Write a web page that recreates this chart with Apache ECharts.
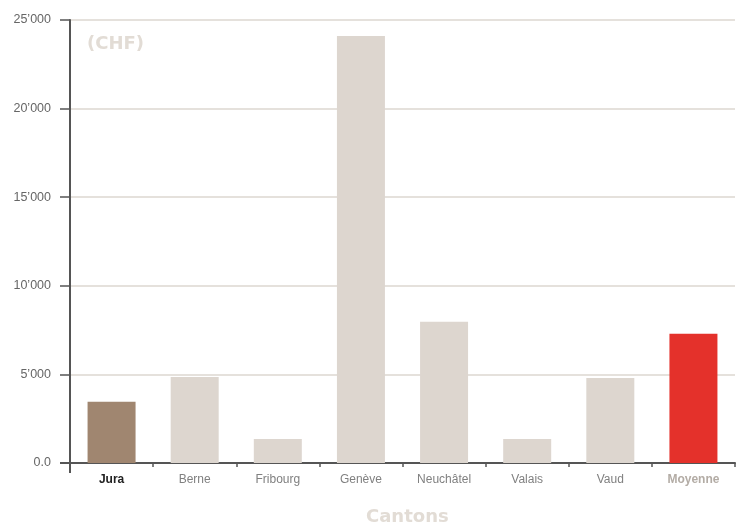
<!DOCTYPE html>
<html>
<head>
<meta charset="utf-8">
<script src="https://cdn.jsdelivr.net/npm/echarts@6/dist/echarts.min.js"></script>
<style>
    html, body { margin: 0; padding: 0; background: #fff; }
    #chart { width: 738px; height: 525px; }
</style>
</head>
<body>
<div id="chart"></div>
<script>
// données
let cantons = ['Jura', 'Berne', 'Fribourg', 'Genève', 'Neuchâtel', 'Valais', 'Vaud', 'Moyenne']
let montants = [3450, 4860, 1360, 24100, 7975, 1360, 4800, 7300]
let couleurs = ['#a08670', '#ddd6cf', '#ddd6cf', '#ddd6cf', '#ddd6cf', '#ddd6cf', '#ddd6cf', '#e4312b']
let yTicks = [0, 5000, 10000, 15000, 20000, 25000]

let dom = document.getElementById('chart')
let myChart = echarts.init(dom)

// 25000 -> 25'000, 0 -> 0.0
function fmt (v) {
    if (v === 0) return '0.0'
    let s = String(v)
    return s.slice(0, s.length - 3) + '\u2019' + s.slice(s.length - 3)
}

let police = 'Liberation Sans, Arial, sans-serif'
let policeTitre = 'DejaVu Sans, sans-serif'

myChart.setOption({
    animation: false,
    textStyle: { fontFamily: police },
    grid: { left: 70, right: 3, top: 20, bottom: 62 },
    xAxis: {
        type: 'category',
        data: cantons,
        boundaryGap: true,
        axisLine: { lineStyle: { color: '#555', width: 2 } },
        axisTick: { show: true, interval: 0, length: 4, lineStyle: { color: '#555', width: 1.5 } },
        axisLabel: {
            interval: 0,
            margin: 11,
            fontSize: 12,
            color: '#808080',
            formatter: function (v, i) {
                if (i === 0) return '{jura|' + v + '}'
                if (i === cantons.length - 1) return '{moy|' + v + '}'
                return v
            },
            rich: {
                jura: { fontWeight: 'bold', color: '#222', fontSize: 12 },
                moy: { fontWeight: 'bold', color: '#b3aca5', fontSize: 12 }
            }
        }
    },
    yAxis: {
        type: 'value',
        min: yTicks[0],
        max: yTicks[yTicks.length - 1],
        interval: 5000,
        axisLine: { show: true, lineStyle: { color: '#555', width: 2 } },
        axisTick: { show: true, length: 10, lineStyle: { color: '#555', width: 1.5 } },
        axisLabel: { margin: 19, fontSize: 12.5, color: '#666', formatter: fmt },
        splitLine: { lineStyle: { color: '#dcd7d0', width: 1.5 } }
    },
    series: [
        {
            type: 'bar',
            data: montants.map(function (v, i) {
                return { value: v, itemStyle: { color: couleurs[i] } }
            }),
            barWidth: 48
        }
    ]
})

// textes et prolongement des axes (l'axe y descend sous l'axe x, l'axe x part à gauche)
let x0 = 70
let y0 = myChart.convertToPixel({ yAxisIndex: 0 }, 0)
myChart.setOption({
    graphic: [
        {
            type: 'text',
            left: 87,
            top: 35,
            silent: true,
            style: { text: '(CHF)', fontSize: 18, fontWeight: 'bold', fill: '#e2dcd5', stroke: 'none', lineWidth: 0, fontFamily: policeTitre }
        },
        {
            type: 'text',
            left: 366,
            top: 508,
            silent: true,
            style: { text: 'Cantons', fontSize: 18, fontWeight: 'bold', fill: '#e2dcd5', stroke: 'none', lineWidth: 0, fontFamily: policeTitre }
        },
        {
            type: 'line',
            shape: { x1: x0, y1: y0, x2: x0, y2: y0 + 10 },
            style: { stroke: '#555', lineWidth: 2 }
        },
        {
            type: 'line',
            shape: { x1: x0 - 10, y1: y0, x2: x0, y2: y0 },
            style: { stroke: '#555', lineWidth: 2 }
        }
    ]
})
</script>
</body>
</html>
